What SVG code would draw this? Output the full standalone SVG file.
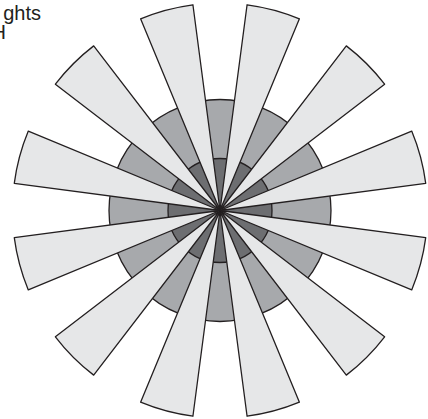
<svg xmlns="http://www.w3.org/2000/svg" xmlns:xlink="http://www.w3.org/1999/xlink" width="428" height="419" viewBox="0 0 428 419">
<style>
.lbl{font-family:"Liberation Sans",Arial,sans-serif;font-size:20px;fill:#231f20}
.mid{fill:#a7a9ac;stroke:#231f20;stroke-width:1.3}
.inner{fill:#6d6e71;stroke:#231f20;stroke-width:1.3}
.petal{fill:#e6e7e8;stroke:#231f20;stroke-width:1.3;stroke-linejoin:round}
</style>
<defs>
<path id="w" d="M0,0 L205.725,27.084 A207.5,207.5 0 0 1 191.705,79.407 Z"/>
</defs>
<g id="labels">
<text class="lbl" x="41" y="20" text-anchor="end">ghts</text>
<text class="lbl" x="6" y="39" text-anchor="end">H</text>
</g>
<g id="rings" transform="translate(220,210.5)">
<circle class="mid" r="111"/>
<circle class="inner" r="52"/>
</g>
<g id="petals" transform="translate(220,210.5)">
<use class="petal" xlink:href="#w"/>
<use class="petal" xlink:href="#w" transform="rotate(30)"/>
<use class="petal" xlink:href="#w" transform="rotate(60)"/>
<use class="petal" xlink:href="#w" transform="rotate(90)"/>
<use class="petal" xlink:href="#w" transform="rotate(120)"/>
<use class="petal" xlink:href="#w" transform="rotate(150)"/>
<use class="petal" xlink:href="#w" transform="rotate(180)"/>
<use class="petal" xlink:href="#w" transform="rotate(210)"/>
<use class="petal" xlink:href="#w" transform="rotate(240)"/>
<use class="petal" xlink:href="#w" transform="rotate(270)"/>
<use class="petal" xlink:href="#w" transform="rotate(300)"/>
<use class="petal" xlink:href="#w" transform="rotate(330)"/>
</g>
</svg>
